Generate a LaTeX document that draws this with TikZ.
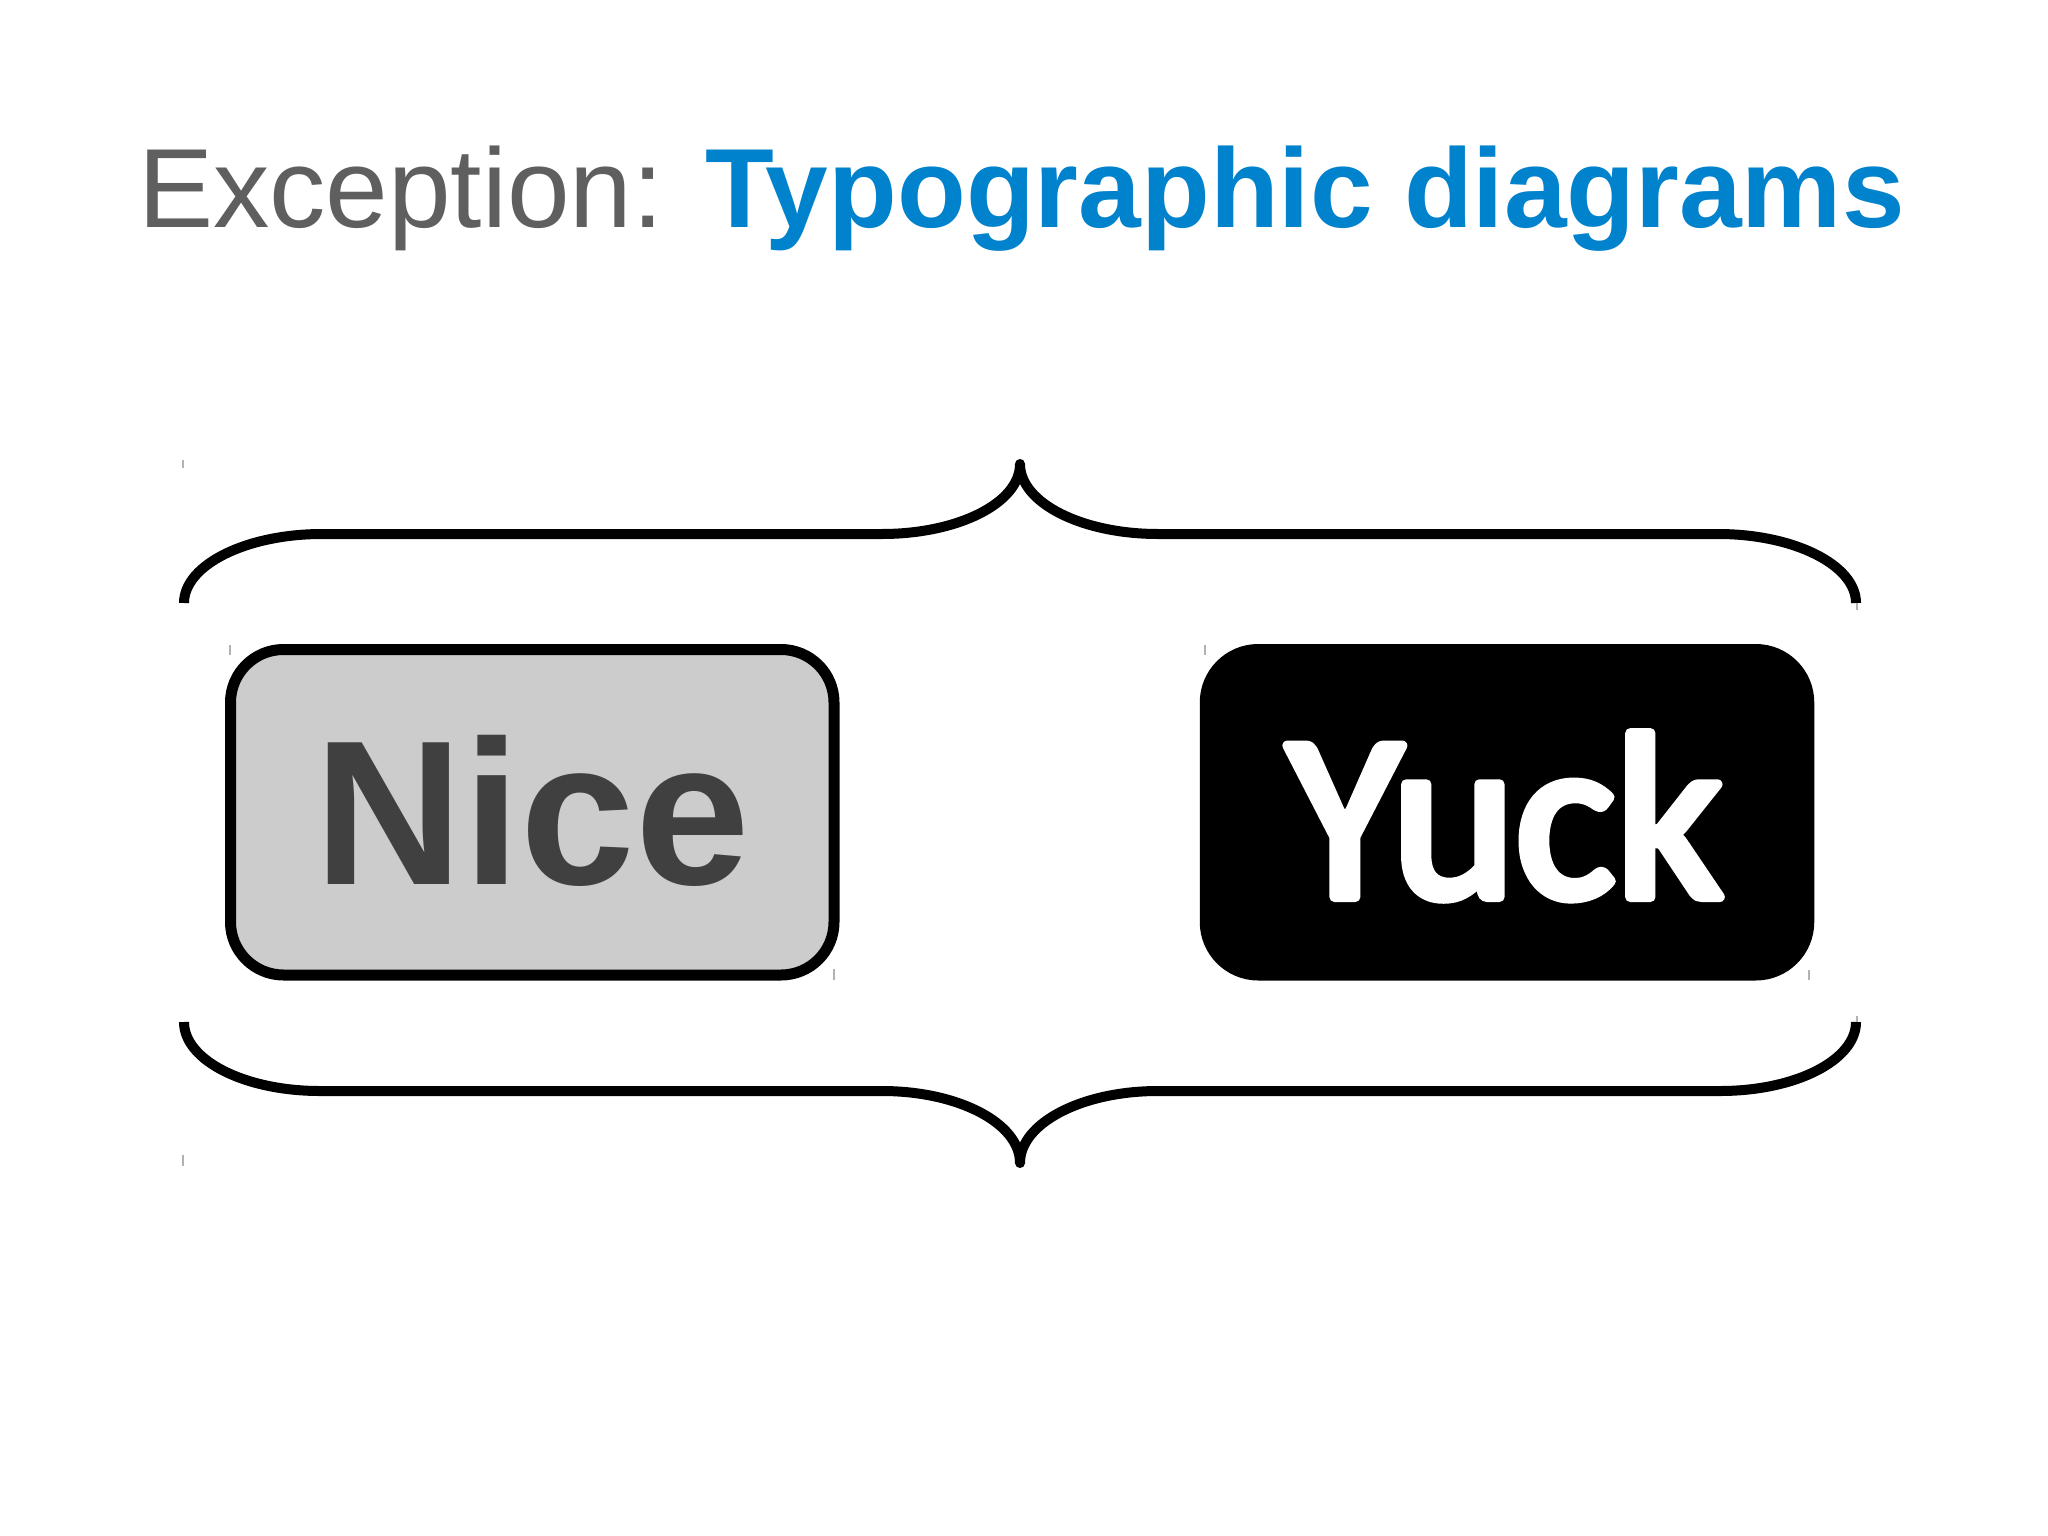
\documentclass[tikz,border=0pt]{standalone}
\usepackage{fontspec}
\setmainfont{Liberation Sans}
\newfontfamily\yuckfont{Carlito}
\definecolor{titlegray}{HTML}{5F5F5F}
\definecolor{titleblue}{HTML}{0082CC}
\definecolor{nicefill}{HTML}{CCCCCC}
\definecolor{nicetext}{HTML}{404040}
\newcommand{\strokedtext}[1]{\special{pdf:literal direct 1 j 1 J 5 w 2 Tr}#1\special{pdf:literal direct 0 Tr}}
\begin{document}
\begin{tikzpicture}[x=0.5pt,y=-0.5pt,
  brace/.style={line width=5pt, line join=round, draw=black},
  card/.style={rounded corners=26.5pt, line width=5.5pt, minimum width=301.75pt,
    minimum height=162.75pt, inner sep=0pt, draw=black},
  tickmark/.style={line width=0.6pt, draw=gray!60},
  plain/.style={inner sep=0pt, outer sep=0pt}]
\useasboundingbox (0,0) rectangle (2048,1535);
\fill[white] (0,0) rectangle (2048,1535);

% title
\node[plain, anchor=base west] (title) at (138,228)
  {\fontsize{56.3pt}{60pt}\selectfont\color{titlegray}Exception: \textcolor{titleblue}{\bfseries Typographic diagrams}};

% top brace
\coordinate (tb1) at (184,603);
\coordinate (tb2) at (1856,603);
\draw[brace] (tb1) .. controls (184,565) and (246,534) .. (322,534) -- (882,534)
  .. controls (958,534) and (1020,503) .. (1020,464)
  .. controls (1020,503) and (1082,534) .. (1158,534) -- (1718,534)
  .. controls (1794,534) and (1856,565) .. (tb2);

% bottom brace
\coordinate (bb1) at (184,1022);
\coordinate (bb2) at (1856,1022);
\draw[brace] (bb1) .. controls (184,1060) and (244,1091) .. (320,1091) -- (882,1091)
  .. controls (958,1091) and (1020,1123) .. (1020,1163)
  .. controls (1020,1123) and (1082,1091) .. (1158,1091) -- (1720,1091)
  .. controls (1796,1091) and (1856,1060) .. (bb2);

% cards
\node[card, fill=nicefill] (nicebox) at (532.25,812.25) {};
\node[card, fill=black] (yuckbox) at (1507,812.25) {};
\node[plain, anchor=base] (nicetext) at (532.5,884)
  {\fontsize{103pt}{110pt}\selectfont\bfseries\color{nicetext}Nice};
\node[plain, anchor=base] (yucktext) at (1505,897)
  {\yuckfont\fontsize{118pt}{120pt}\selectfont\color{white}\strokedtext{Yuck}};

% faint selection ticks
\draw[tickmark] (183,460) -- (183,468);
\draw[tickmark] (1857,603) -- (1857,610);
\draw[tickmark] (183,1155) -- (183,1166);
\draw[tickmark] (1857,1016) -- (1857,1022);
\draw[tickmark] (230,645) -- (230,655);
\draw[tickmark] (834,969) -- (834,980);
\draw[tickmark] (1205,645) -- (1205,655);
\draw[tickmark] (1809,970) -- (1809,980);
\end{tikzpicture}
\end{document}
